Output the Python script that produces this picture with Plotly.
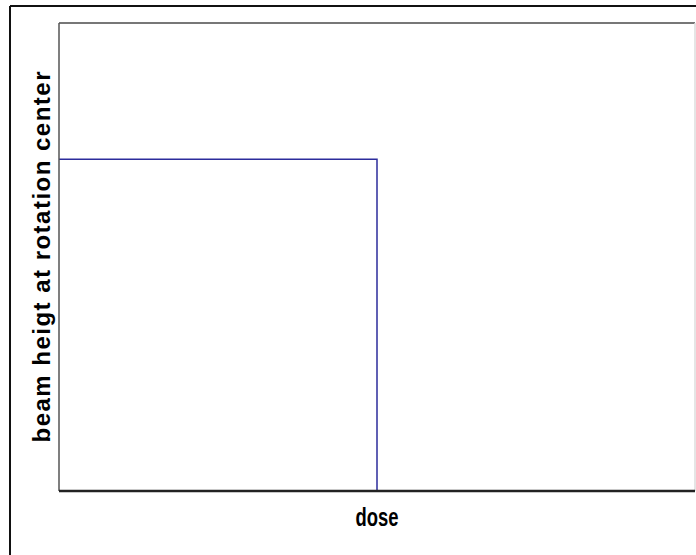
import plotly.graph_objects as go

# step curve (axis units 0..1, no tick labels shown)
dose = [0.0, 0.5]
beam_height = [0.709, 0.0]

W, H = 696, 555
L, R, T, B = 59, 1, 23, 64


def px_x(p):
	return (p - L) / (W - L - R)


def px_y(p):
	return (H - B - p) / (H - T - B)


fig = go.Figure()
fig.add_trace(go.Scatter(
	x=dose, y=beam_height, mode="lines", line_shape="hv",
	line=dict(color="#2c2c9c", width=1.5), showlegend=False,
))

shapes = [
	# outer frame (only left and top visible)
	dict(type="line", xref="paper", yref="paper", x0=px_x(10), x1=px_x(10), y0=px_y(6), y1=px_y(600), line=dict(color="#111", width=2)),
	dict(type="line", xref="paper", yref="paper", x0=px_x(10), x1=px_x(720), y0=px_y(6), y1=px_y(6), line=dict(color="#111", width=2)),
	# plot box
	dict(type="line", xref="paper", yref="paper", x0=0, x1=1, y0=1, y1=1, line=dict(color="#777", width=2)),
	dict(type="line", xref="paper", yref="paper", x0=0, x1=0, y0=0, y1=1, line=dict(color="#555", width=1.5)),
	dict(type="line", xref="paper", yref="paper", x0=1, x1=1, y0=0, y1=1, line=dict(color="#ddd", width=1.5)),
	dict(type="line", xref="paper", yref="paper", x0=0, x1=1, y0=0, y1=0, line=dict(color="#222", width=2.5)),
]

fig.update_layout(
	width=W, height=H,
	margin=dict(l=L, r=R, t=T, b=B),
	paper_bgcolor="white", plot_bgcolor="white",
	shapes=shapes,
	xaxis=dict(range=[0, 1], showgrid=False, zeroline=False, showticklabels=False, ticks="",
		title=dict(text="dose", standoff=17,
			font=dict(family="Liberation Sans, Arial", size=25, color="black", weight="bold"))),
	yaxis=dict(range=[0, 1], showgrid=False, zeroline=False, showticklabels=False, ticks="",
		title=dict(text="beam heigt at rotation center", standoff=0,
			font=dict(family="Liberation Sans, Arial", size=24, color="black", weight="bold"))),
)

# source page has no body margin; its x title is condensed and its y title spaced out
post = ("document.body.style.margin='0';"
	"document.querySelectorAll('.xtitle').forEach(function(t){t.setAttribute('textLength','43');t.setAttribute('lengthAdjust','spacingAndGlyphs');});"
	"document.querySelectorAll('.ytitle').forEach(function(t){t.setAttribute('textLength','371');t.setAttribute('lengthAdjust','spacing');});")
fig.write_html("out.html", post_script=post, config={"displayModeBar": False})
